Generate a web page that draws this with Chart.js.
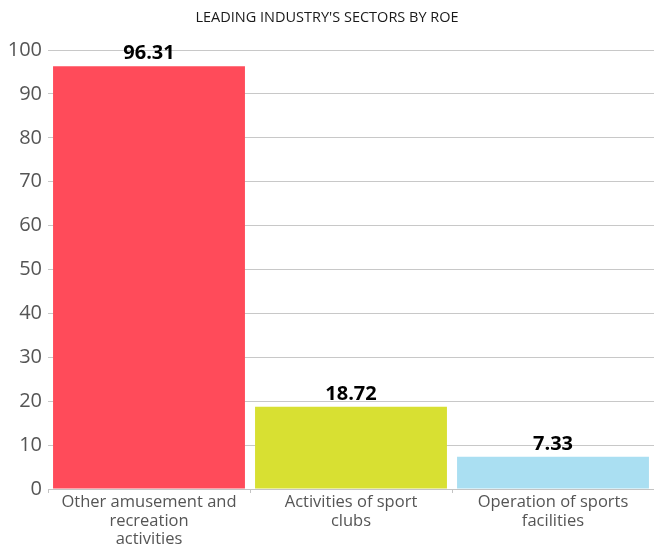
<!DOCTYPE html>
<html>
<head>
<meta charset="utf-8">
<script src="https://cdn.jsdelivr.net/npm/chart.js@4/dist/chart.umd.min.js"></script>
<style>
  html, body { margin: 0; padding: 0; background: #fff; }
  #wrap { width: 654px; height: 546px; position: relative; }
</style>
</head>
<body>
<div id="wrap"><canvas id="c"></canvas></div>
<script>
const chartTitle = "LEADING INDUSTRY'S SECTORS BY ROE";
const categories = [
  ["Other amusement and", "recreation", "activities"],
  ["Activities of sport", "clubs"],
  ["Operation of sports", "facilities"]
];
const roeValues = [96.31, 18.72, 7.33];
const barColors = ["#FF4B5A", "#D8E032", "#AADFF2"];
const yMin = 0, yMax = 100, yStep = 10;

const FONT = "'Open Sans', 'Noto Sans', sans-serif";

const valueLabels = {
  id: 'valueLabels',
  afterDatasetsDraw(chart) {
    const ctx = chart.ctx;
    const meta = chart.getDatasetMeta(0);
    ctx.save();
    ctx.font = "bold 20px " + FONT;
    ctx.fillStyle = "#000";
    ctx.textAlign = "center";
    ctx.textBaseline = "bottom";
    meta.data.forEach((el, i) => {
      ctx.fillText(roeValues[i].toFixed(2), el.x, el.y - 3);
    });
    ctx.restore();
  }
};

new Chart(document.getElementById('c'), {
  type: 'bar',
  data: {
    labels: categories,
    datasets: [{
      data: roeValues,
      backgroundColor: barColors,
      borderWidth: 0,
      barPercentage: 0.95,
      categoryPercentage: 1.0
    }]
  },
  options: {
    responsive: true,
    maintainAspectRatio: false,
    animation: false,
    layout: { padding: { left: 0, right: 0, top: 0, bottom: 0 } },
    plugins: {
      legend: { display: false },
      tooltip: { enabled: false },
      title: {
        display: true,
        text: chartTitle,
        color: "#1a1a1a",
        font: { family: FONT, size: 14.5, weight: 'normal', lineHeight: 1.2 },
        padding: { top: 9, bottom: 23.6 }
      }
    },
    scales: {
      x: {
        offset: true,
        grid: { display: true, drawOnChartArea: false, drawTicks: true, tickLength: 4, color: "#c4c4c4", offset: true },
        border: { display: true, color: "#c4c4c4", width: 1 },
        ticks: {
          color: "#555",
          font: { family: FONT, size: 16.5, lineHeight: 1.13 },
          padding: 0,
          maxRotation: 0,
          autoSkip: false
        },
        afterFit(scale) { scale.height = 57; }
      },
      y: {
        min: yMin,
        max: yMax,
        grid: { color: "#c8c8c8", drawTicks: false, lineWidth: 1 },
        border: { display: false },
        ticks: {
          stepSize: yStep,
          color: "#555",
          font: { family: FONT, size: 20 },
          padding: 6
        },
        afterFit(scale) { scale.width = 48; }
      }
    }
  },
  plugins: [valueLabels]
});
</script>
</body>
</html>
